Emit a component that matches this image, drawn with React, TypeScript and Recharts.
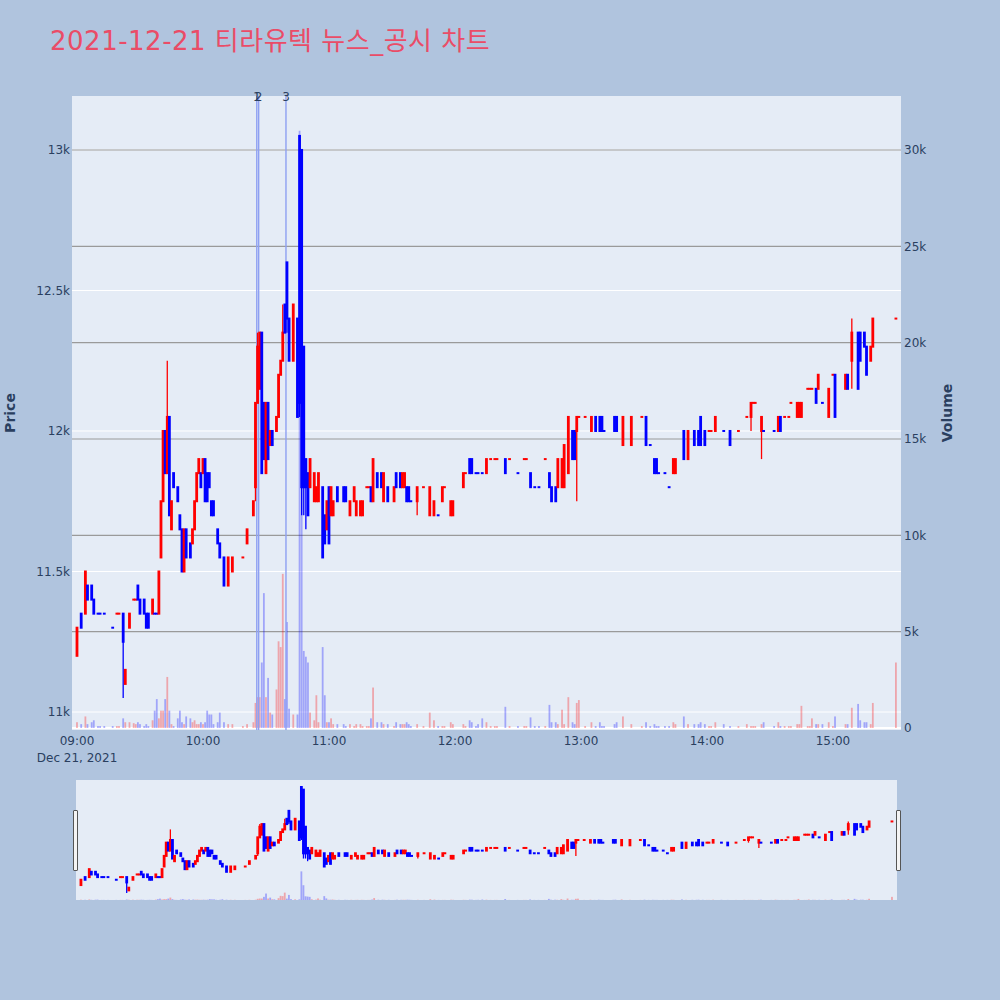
import React from "react";
import { ComposedChart, Bar, XAxis, YAxis, CartesianGrid, ReferenceLine } from "recharts";

// ── candles: [minute after 09:00, open, high, low, close, volume] ──
const h09 = [
  [0, 11200, 11300, 11200, 11300, 300], [2, 11350, 11350, 11300, 11300, 200], [4, 11350, 11500, 11350, 11500, 600],
  [5, 11450, 11450, 11400, 11400, 200], [7, 11450, 11450, 11400, 11400, 300], [8, 11400, 11400, 11350, 11350, 400],
  [10, 11350, 11350, 11350, 11350, 100], [11, 11350, 11350, 11350, 11350, 100], [13, 11350, 11350, 11350, 11350, 100],
  [17, 11300, 11300, 11300, 11300, 100], [19, 11350, 11350, 11350, 11350, 100], [20, 11350, 11350, 11350, 11350, 100],
  [22, 11350, 11350, 11050, 11250, 500], [23, 11100, 11150, 11100, 11150, 300], [25, 11300, 11350, 11300, 11350, 300],
  [27, 11400, 11400, 11400, 11400, 250], [28, 11400, 11400, 11400, 11400, 200], [29, 11450, 11450, 11400, 11400, 300],
  [30, 11400, 11400, 11350, 11350, 200], [32, 11400, 11400, 11350, 11350, 100], [33, 11350, 11350, 11300, 11300, 200],
  [34, 11350, 11350, 11300, 11300, 100], [36, 11350, 11400, 11350, 11400, 400], [37, 11350, 11350, 11350, 11350, 900],
  [38, 11350, 11350, 11350, 11350, 1500], [39, 11350, 11500, 11350, 11500, 500], [40, 11550, 11750, 11550, 11750, 900],
  [41, 11750, 12000, 11750, 12000, 900], [42, 12000, 12000, 11850, 11850, 1500], [43, 11850, 12250, 11850, 12050, 2650],
  [44, 12050, 12050, 11700, 11700, 900], [45, 11650, 11750, 11650, 11750, 200], [46, 11850, 11850, 11800, 11800, 100],
  [48, 11800, 11800, 11750, 11750, 500], [49, 11700, 11700, 11650, 11650, 900], [50, 11650, 11650, 11500, 11500, 300],
  [51, 11500, 11650, 11500, 11650, 200], [52, 11650, 11650, 11550, 11550, 600], [54, 11600, 11600, 11550, 11550, 500],
  [55, 11600, 11650, 11600, 11650, 300], [56, 11650, 11750, 11650, 11750, 400], [57, 11750, 11850, 11750, 11850, 200],
  [58, 11850, 11900, 11850, 11900, 200], [59, 11850, 11850, 11800, 11800, 300],
];
const h10 = [
  [60, 11850, 11900, 11850, 11900, 200], [61, 11900, 11900, 11750, 11750, 300], [62, 11850, 11850, 11750, 11750, 900],
  [63, 11850, 11850, 11800, 11800, 700], [64, 11750, 11750, 11700, 11700, 700], [65, 11750, 11750, 11700, 11700, 200],
  [67, 11650, 11650, 11600, 11600, 300], [68, 11600, 11600, 11550, 11550, 800], [70, 11550, 11550, 11450, 11450, 300],
  [72, 11450, 11550, 11450, 11550, 200], [74, 11500, 11550, 11500, 11550, 200], [79, 11550, 11550, 11550, 11550, 100],
  [81, 11600, 11650, 11600, 11650, 200], [84, 11700, 11750, 11700, 11750, 300], [85, 11800, 12100, 11750, 12100, 1300],
  [86, 12100, 12350, 12100, 12300, 1600], [87, 12150, 12350, 12150, 12350, 1600], [88, 12350, 12350, 11850, 11850, 3400],
  [89, 12100, 12100, 11900, 11900, 7000], [90, 11850, 12100, 11850, 12100, 1600], [91, 12100, 12100, 11900, 11900, 2600],
  [92, 11950, 12000, 11950, 12000, 800], [93, 12000, 12000, 11950, 11950, 700], [95, 12000, 12050, 12000, 12050, 2000],
  [96, 12050, 12200, 12050, 12200, 4500], [97, 12200, 12250, 12200, 12250, 4200], [98, 12250, 12450, 12250, 12350, 8000],
  [99, 12450, 12450, 12350, 12350, 1500], [100, 12600, 12600, 12350, 12400, 5500], [101, 12400, 12400, 12250, 12250, 1000],
  [103, 12250, 12450, 12250, 12450, 700], [105, 12400, 12400, 12050, 12050, 700], [106, 13050, 13050, 12050, 12100, 31000],
  [107, 13000, 13000, 11700, 11800, 16000], [108, 12300, 12300, 11700, 11800, 4000], [109, 11900, 11900, 11650, 11800, 3700],
  [110, 11850, 11850, 11700, 11700, 3400], [111, 11800, 11900, 11800, 11900, 800], [113, 11750, 11850, 11750, 11850, 400],
  [114, 11750, 11800, 11750, 11800, 1700], [115, 11750, 11850, 11750, 11850, 300], [117, 11800, 11800, 11550, 11550, 4200],
  [118, 11700, 11700, 11600, 11600, 1700], [119, 11650, 11750, 11650, 11750, 300],
];
const h11 = [
  [120, 11800, 11800, 11600, 11600, 300], [121, 11700, 11800, 11700, 11800, 500], [122, 11700, 11750, 11700, 11750, 200],
  [124, 11800, 11800, 11750, 11750, 200], [127, 11800, 11800, 11750, 11750, 200], [128, 11800, 11800, 11750, 11750, 100],
  [130, 11700, 11750, 11700, 11750, 200], [132, 11750, 11800, 11750, 11800, 100], [133, 11700, 11750, 11700, 11750, 200],
  [135, 11700, 11750, 11700, 11750, 200], [136, 11700, 11750, 11700, 11750, 100], [138, 11800, 11800, 11800, 11800, 100],
  [139, 11800, 11800, 11800, 11800, 100], [140, 11800, 11800, 11750, 11750, 500], [141, 11750, 11900, 11750, 11900, 2100],
  [143, 11850, 11850, 11800, 11800, 300], [145, 11850, 11850, 11800, 11800, 300], [146, 11750, 11850, 11750, 11850, 200],
  [148, 11800, 11800, 11750, 11750, 200], [151, 11750, 11800, 11750, 11800, 100], [152, 11850, 11850, 11800, 11800, 300],
  [154, 11850, 11850, 11800, 11800, 200], [155, 11800, 11850, 11800, 11850, 200], [156, 11800, 11850, 11800, 11850, 200],
  [157, 11800, 11800, 11750, 11750, 300], [158, 11800, 11800, 11750, 11750, 200], [159, 11750, 11750, 11750, 11750, 100],
  [162, 11750, 11800, 11700, 11800, 200], [165, 11800, 11800, 11800, 11800, 100], [168, 11700, 11800, 11700, 11800, 800],
  [170, 11700, 11750, 11700, 11750, 400], [172, 11700, 11700, 11700, 11700, 100], [174, 11750, 11800, 11750, 11800, 100],
  [175, 11800, 11800, 11800, 11800, 100], [178, 11700, 11750, 11700, 11750, 300], [179, 11700, 11750, 11700, 11750, 200],
];
const h12 = [
  [184, 11800, 11850, 11800, 11850, 200], [185, 11850, 11850, 11850, 11850, 100], [187, 11900, 11900, 11850, 11850, 400],
  [188, 11900, 11900, 11850, 11850, 300], [190, 11850, 11850, 11850, 11850, 100], [191, 11850, 11850, 11850, 11850, 200],
  [193, 11850, 11850, 11850, 11850, 500], [195, 11850, 11900, 11850, 11900, 300], [197, 11900, 11900, 11900, 11900, 100],
  [199, 11900, 11900, 11900, 11900, 100], [200, 11900, 11900, 11900, 11900, 100], [204, 11900, 11900, 11850, 11850, 1100],
  [206, 11900, 11900, 11900, 11900, 100], [210, 11850, 11850, 11850, 11850, 100], [213, 11900, 11900, 11900, 11900, 100],
  [214, 11900, 11900, 11900, 11900, 100], [216, 11850, 11850, 11800, 11800, 550], [218, 11800, 11800, 11800, 11800, 100],
  [220, 11800, 11800, 11800, 11800, 100], [223, 11900, 11900, 11900, 11900, 100], [225, 11850, 11850, 11800, 11800, 1200],
  [226, 11800, 11800, 11750, 11750, 300], [228, 11800, 11800, 11750, 11750, 300], [229, 11800, 11900, 11800, 11900, 200],
  [231, 11800, 11900, 11800, 11900, 950], [232, 11800, 11950, 11800, 11950, 200], [234, 11850, 12050, 11850, 12050, 1600],
  [236, 12000, 12000, 11900, 11900, 300], [237, 12000, 12000, 11900, 11900, 200], [238, 12000, 12050, 11750, 12050, 1300],
  [239, 12050, 12050, 12050, 12050, 1450],
];
const h13 = [
  [242, 12050, 12050, 12050, 12050, 100], [245, 12000, 12050, 12000, 12050, 300], [247, 12050, 12050, 12000, 12000, 100],
  [249, 12050, 12050, 12000, 12000, 300], [250, 12050, 12050, 12000, 12000, 100], [251, 12000, 12000, 12000, 12000, 100],
  [256, 12050, 12050, 12000, 12000, 200], [257, 12050, 12050, 12000, 12000, 300], [260, 11950, 12050, 11950, 12050, 600],
  [264, 11950, 12050, 11950, 12050, 200], [269, 12050, 12050, 12050, 12050, 100], [271, 12050, 12050, 11950, 11950, 300],
  [273, 11950, 11950, 11950, 11950, 100], [275, 11900, 11900, 11850, 11850, 200], [276, 11900, 11900, 11850, 11850, 100],
  [277, 11850, 11850, 11850, 11850, 100], [280, 11850, 11850, 11850, 11850, 100], [282, 11800, 11800, 11800, 11800, 100],
  [284, 11850, 11900, 11850, 11900, 300], [285, 11850, 11900, 11850, 11900, 200], [289, 12000, 12000, 11900, 11900, 600],
  [291, 11900, 12000, 11900, 12000, 200], [294, 12000, 12000, 11950, 11950, 200], [296, 12000, 12000, 11950, 11950, 200],
  [297, 12050, 12050, 11950, 11950, 300], [299, 12000, 12000, 11950, 11950, 200],
];
const h14 = [
  [301, 12000, 12000, 12000, 12000, 100], [302, 12000, 12000, 12000, 12000, 100], [304, 12000, 12050, 12000, 12050, 300],
  [308, 12000, 12000, 12000, 12000, 200], [311, 12000, 12000, 11950, 11950, 100], [315, 12000, 12000, 12000, 12000, 100],
  [319, 12050, 12050, 12050, 12050, 200], [321, 12050, 12100, 12000, 12100, 100], [322, 12100, 12100, 12100, 12100, 100],
  [323, 12100, 12100, 12100, 12100, 100], [326, 12000, 12050, 11900, 12050, 200], [327, 12000, 12000, 12000, 12000, 300],
  [332, 12000, 12000, 12000, 12000, 100], [334, 12000, 12050, 12000, 12050, 300], [335, 12050, 12050, 12000, 12000, 100],
  [337, 12050, 12050, 12050, 12050, 100], [339, 12050, 12050, 12050, 12050, 100], [340, 12100, 12100, 12100, 12100, 100],
  [343, 12050, 12100, 12050, 12100, 200], [344, 12050, 12100, 12050, 12100, 200], [345, 12050, 12100, 12050, 12100, 1150],
  [348, 12150, 12150, 12150, 12150, 100], [349, 12150, 12150, 12150, 12150, 100], [350, 12150, 12150, 12150, 12150, 500],
  [352, 12150, 12150, 12100, 12100, 200], [353, 12150, 12200, 12150, 12200, 200], [355, 12100, 12100, 12100, 12100, 200],
  [358, 12050, 12150, 12050, 12150, 300],
];
const h15 = [
  [360, 12200, 12200, 12200, 12200, 100], [361, 12200, 12200, 12050, 12050, 600], [366, 12150, 12200, 12150, 12200, 200],
  [367, 12200, 12200, 12150, 12150, 200], [369, 12250, 12400, 12150, 12350, 1050], [372, 12350, 12350, 12150, 12150, 1250],
  [373, 12350, 12350, 12250, 12250, 400], [375, 12350, 12350, 12300, 12300, 300], [376, 12300, 12300, 12200, 12200, 300],
  [378, 12250, 12300, 12250, 12300, 200], [379, 12300, 12400, 12300, 12400, 1300], [390, 12400, 12400, 12400, 12400, 3400],
];

const priceTicks = [11000, 11500, 12000, 12500, 13000];
const priceLabels = ["11k", "11.5k", "12k", "12.5k", "13k"];
const volumeTicks = [0, 5000, 10000, 15000, 20000, 25000, 30000];
const volumeLabels = ["0", "5k", "10k", "15k", "20k", "25k", "30k"];
const volumeGrid = [5000, 10000, 15000, 20000, 25000, 30000];
const timeTicks = [0, 60, 120, 180, 240, 300, 360];
const timeLabels = ["09:00", "10:00", "11:00", "12:00", "13:00", "14:00", "15:00"];
const newsMinutes = [85.6, 86.5, 99.5];
const newsLabels = ["1", "2", "3"];

const TITLE = "2021-12-21 티라유텍 뉴스_공시 차트";
const FONT = '"DejaVu Sans", Verdana, "Noto Sans CJK KR", sans-serif';
const INK = "#2a3f5f";
const RED = "#ff0000";
const BLUE = "#0000ff";
const X_DOMAIN: [number, number] = [-2.4, 392.4];
const PRICE_DOMAIN: [number, number] = [10936, 13192];
const VOL_DOMAIN: [number, number] = [-104, 32803];
const MINI_PRICE_DOMAIN: [number, number] = [10918, 13182];
const MINI_VOL_DOMAIN: [number, number] = [0, 130000];

// plotly colours a flat candle by comparing with the previous close
let prevClose = 0;
let prevUp = true;
const data = [...h09, ...h10, ...h11, ...h12, ...h13, ...h14, ...h15].map(([t, open, high, low, close, vol]) => {
  let up = close > open;
  if (close === open) up = close > prevClose ? true : close < prevClose ? false : prevUp;
  prevClose = close;
  prevUp = up;
  return { t, open, high, low, close, vol, up };
});

function Candle(props: any) {
  const { x, y, width, height, payload } = props;
  if (!payload || x == null || y == null) return null;
  const { open, close, high, low, up } = payload;
  const color = up ? RED : BLUE;
  const cx = x + (width || 0) / 2;
  const top = Math.min(y, y + (height || 0));
  const bot = Math.max(y, y + (height || 0));
  const at = (v: number) => (high === low ? top : top + ((high - v) / (high - low)) * (bot - top));
  const bTop = at(Math.max(open, close));
  const bBot = at(Math.min(open, close));
  return (
    <g>
      <line x1={cx} x2={cx} y1={top} y2={bot} stroke={color} strokeWidth={1.3} />
      <rect x={cx - 1.4} y={bTop - 1} width={2.8} height={bBot - bTop + 2} fill={color} />
    </g>
  );
}

function VolBar(props: any) {
  const { x, y, width, height, payload } = props;
  if (!payload || x == null || y == null) return null;
  const cx = x + (width || 0) / 2;
  const top = Math.min(y, y + (height || 0));
  const h = Math.abs(height || 0);
  return <rect x={cx - 0.9} y={top} width={1.8} height={h} fill={payload.up ? "rgba(255,0,0,0.3)" : "rgba(0,0,255,0.3)"} />;
}

function TimeTick(props: any) {
  const { x, y, payload } = props;
  const i = timeTicks.indexOf(payload.value);
  return (
    <text x={x} y={y} textAnchor="middle" fill={INK} fontSize={12} fontFamily={FONT}>
      <tspan x={x} dy="0.71em">{timeLabels[i]}</tspan>
      {i === 0 && <tspan x={x} dy="1.45em">Dec 21, 2021</tspan>}
    </text>
  );
}

const tickStyle = { fill: INK, fontSize: 12, fontFamily: FONT };

function NewsLabel(text: string) {
  return (props: any) => {
    const vb = props.viewBox || {};
    return (
      <text x={vb.x} y={vb.y} dy={5} textAnchor="middle" fill={INK} fontSize={12} fontFamily={FONT}>
        {text}
      </text>
    );
  };
}

export default function App() {
  return (
    <div style={{ position: "absolute", left: 0, top: 0, width: 1000, height: 1000, background: "#b0c4de", overflow: "hidden", fontFamily: FONT }}>
      <svg width={1000} height={1000} style={{ position: "absolute", left: 0, top: 0 }}>
        <rect x={72} y={96} width={829} height={634} fill="#e5ecf6" />
        <rect x={76} y={780} width={821} height={120} fill="#e5ecf6" />
        <text x={50} y={50} fontSize={26} letterSpacing={0.5} fill="#ea4c67" fontFamily={FONT}>{TITLE}</text>
        <text transform="translate(15,413) rotate(-90)" textAnchor="middle" fontSize={14} fontWeight="bold" fill={INK} fontFamily={FONT}>Price</text>
        <text transform="translate(952,413) rotate(-90)" textAnchor="middle" fontSize={14} fontWeight="bold" fill={INK} fontFamily={FONT}>Volume</text>
      </svg>

      {/* back layer: grids, axes, volume, news lines */}
      <div style={{ position: "absolute", left: 0, top: 0 }}>
        <ComposedChart width={1000} height={780} data={data} margin={{ top: 96, right: 0, bottom: 0, left: 0 }}>
          <CartesianGrid yAxisId="price" vertical={false} stroke="#ffffff" strokeWidth={1} horizontalValues={priceTicks} />
          <CartesianGrid yAxisId="vol" vertical={false} stroke="#ffffff" strokeWidth={2} horizontalValues={[0]} />
          <CartesianGrid yAxisId="vol" vertical={false} stroke="#9a9a9a" strokeWidth={1.2} horizontalValues={volumeGrid} />
          <XAxis dataKey="t" type="number" domain={X_DOMAIN} allowDataOverflow ticks={timeTicks} tick={<TimeTick />} tickLine={false} axisLine={false} tickSize={0} tickMargin={6} height={50} interval={0} />
          <YAxis yAxisId="price" orientation="left" type="number" domain={PRICE_DOMAIN} allowDataOverflow ticks={priceTicks}
            tickFormatter={(v: number) => priceLabels[priceTicks.indexOf(v)]} tick={tickStyle} tickLine={false} axisLine={false} tickSize={0} tickMargin={2} width={72} interval={0} />
          <YAxis yAxisId="vol" orientation="right" type="number" domain={VOL_DOMAIN} allowDataOverflow ticks={volumeTicks}
            tickFormatter={(v: number) => volumeLabels[volumeTicks.indexOf(v)]} tick={tickStyle} tickLine={false} axisLine={false} tickSize={0} tickMargin={3} width={99} interval={0} />
          <Bar yAxisId="vol" dataKey="vol" barSize={2} shape={<VolBar />} isAnimationActive={false} />
          {newsMinutes.map((m, i) => (
            <ReferenceLine key={i} x={m} yAxisId="price" stroke="#8ea0f2" strokeWidth={1.4} label={NewsLabel(newsLabels[i])} />
          ))}
        </ComposedChart>
      </div>

      {/* front layer: candles */}
      <div style={{ position: "absolute", left: 0, top: 0 }}>
        <ComposedChart width={1000} height={780} data={data} margin={{ top: 96, right: 99, bottom: 50, left: 72 }}>
          <XAxis dataKey="t" type="number" domain={X_DOMAIN} allowDataOverflow hide />
          <YAxis yAxisId="price" type="number" domain={PRICE_DOMAIN} allowDataOverflow hide />
          <Bar yAxisId="price" dataKey={(d: any) => [d.low, d.high]} barSize={2} shape={<Candle />} isAnimationActive={false} />
        </ComposedChart>
      </div>

      {/* range slider preview */}
      <div style={{ position: "absolute", left: 76, top: 780 }}>
        <ComposedChart width={821} height={120} data={data} margin={{ top: 0, right: 0, bottom: 0, left: 0 }}>
          <XAxis dataKey="t" type="number" domain={X_DOMAIN} allowDataOverflow hide />
          <YAxis yAxisId="vol" type="number" domain={MINI_VOL_DOMAIN} allowDataOverflow hide />
          <Bar yAxisId="vol" dataKey="vol" barSize={2} shape={<VolBar />} isAnimationActive={false} />
        </ComposedChart>
      </div>
      <div style={{ position: "absolute", left: 76, top: 780 }}>
        <ComposedChart width={821} height={120} data={data} margin={{ top: 0, right: 0, bottom: 0, left: 0 }}>
          <XAxis dataKey="t" type="number" domain={X_DOMAIN} allowDataOverflow hide />
          <YAxis yAxisId="price" type="number" domain={MINI_PRICE_DOMAIN} allowDataOverflow hide />
          <Bar yAxisId="price" dataKey={(d: any) => [d.low, d.high]} barSize={2} shape={<Candle />} isAnimationActive={false} />
        </ComposedChart>
      </div>
      <div style={{ position: "absolute", left: 73, top: 810, width: 3, height: 59, background: "#f4f4f4", border: "1px solid #555", borderRadius: 1 }} />
      <div style={{ position: "absolute", left: 896, top: 810, width: 3, height: 59, background: "#f4f4f4", border: "1px solid #555", borderRadius: 1 }} />
    </div>
  );
}
